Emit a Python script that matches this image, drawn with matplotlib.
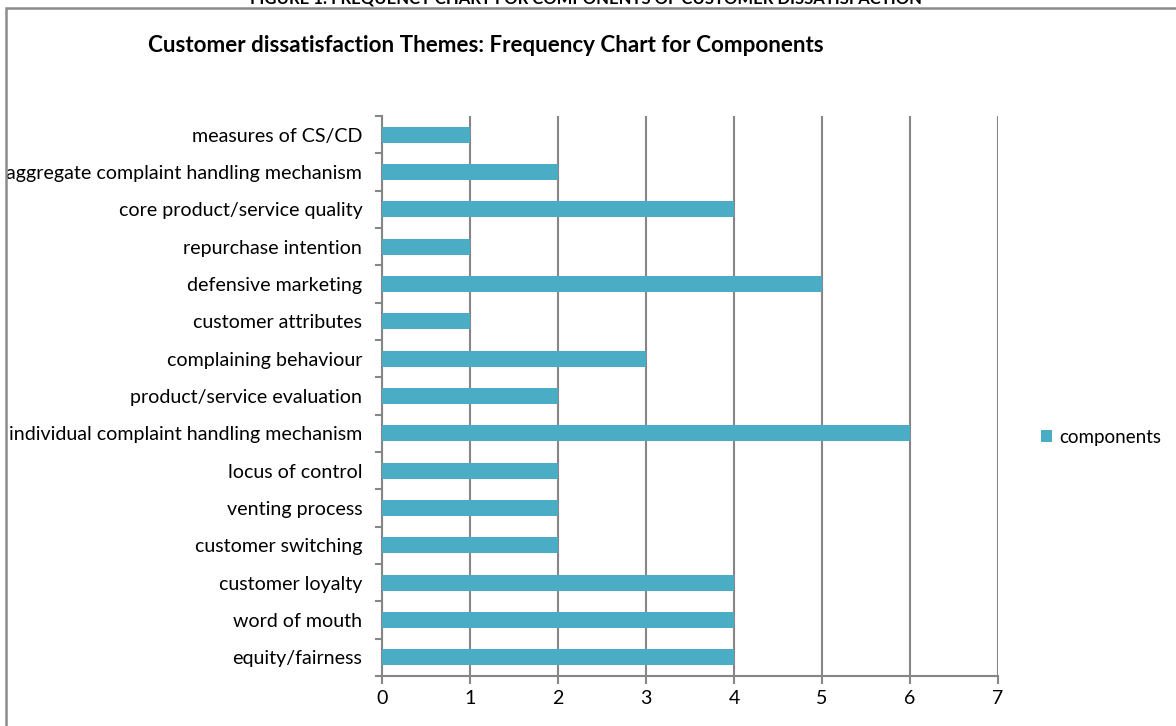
import numpy as np
import matplotlib.pyplot as plt
from matplotlib.patches import Rectangle

plt.rcParams['font.family'] = ['Lato', 'DejaVu Sans']

# Components of customer dissatisfaction, listed top to bottom
components = [
    'measures of CS/CD',
    'aggregate complaint handling mechanism',
    'core product/service quality',
    'repurchase intention',
    'defensive marketing',
    'customer attributes',
    'complaining behaviour',
    'product/service evaluation',
    'individual complaint handling mechanism',
    'locus of control',
    'venting process',
    'customer switching',
    'customer loyalty',
    'word of mouth',
    'equity/fairness',
]
frequency = [1, 2, 4, 1, 5, 1, 3, 2, 6, 2, 2, 2, 4, 4, 4]

bar_color = '#4BACC6'
axis_color = '#868686'
W, H = 1176, 726

fig = plt.figure(figsize=(W / 100, H / 100), dpi=100)
ax = fig.add_axes([382 / W, 1 - 676 / H, (998 - 382) / W, (676 - 116) / H])

y = np.arange(len(components))
ax.barh(y, frequency, height=0.42, color=bar_color, label='components', zorder=3)

ax.set_xlim(0, 7)
ax.set_ylim(len(components) - 0.5, -0.5)
ax.set_xticks(range(0, 8))
ax.set_yticks(y)
ax.set_yticklabels(components)
ax.set_yticks(np.arange(-0.5, len(components), 1), minor=True)

ax.tick_params(axis='y', which='major', length=0, pad=14.2, labelsize=14.1)
ax.tick_params(axis='y', which='minor', length=5, color=axis_color, width=1.5)
ax.tick_params(axis='x', length=6, color=axis_color, width=1.5, pad=4, labelsize=14.1)

ax.grid(axis='x', color=axis_color, linewidth=1.5, zorder=0)
for side in ['top', 'right']:
    ax.spines[side].set_visible(False)
for side in ['left', 'bottom']:
    ax.spines[side].set_color(axis_color)
    ax.spines[side].set_linewidth(1.5)

fig.text(148 / W, 1 - 45 / H, 'Customer dissatisfaction Themes: Frequency Chart for Components',
         fontsize=16.1, fontweight='bold', va='center', ha='left')

# heading of the figure, mostly above the page edge
fig.text(586 / W, 1 - 4 / H, 'FIGURE 1: FREQUENCY CHART FOR COMPONENTS OF CUSTOMER DISSATISFACTION',
         fontsize=12, fontweight='bold', ha='center', va='baseline')

# outer chart frame
fig.patches.append(Rectangle((6 / W, -0.05), 1.1, 1 - 8 / H + 0.05, transform=fig.transFigure,
                             fill=False, edgecolor='#8c8c8c', linewidth=1.8))

fig.legend(loc='center left', bbox_to_anchor=(1024 / W, 1 - 437 / H), frameon=False,
           fontsize=13.5, handlelength=0.6, handleheight=0.6, handletextpad=0.4)

fig.savefig('out.png', dpi=100)
